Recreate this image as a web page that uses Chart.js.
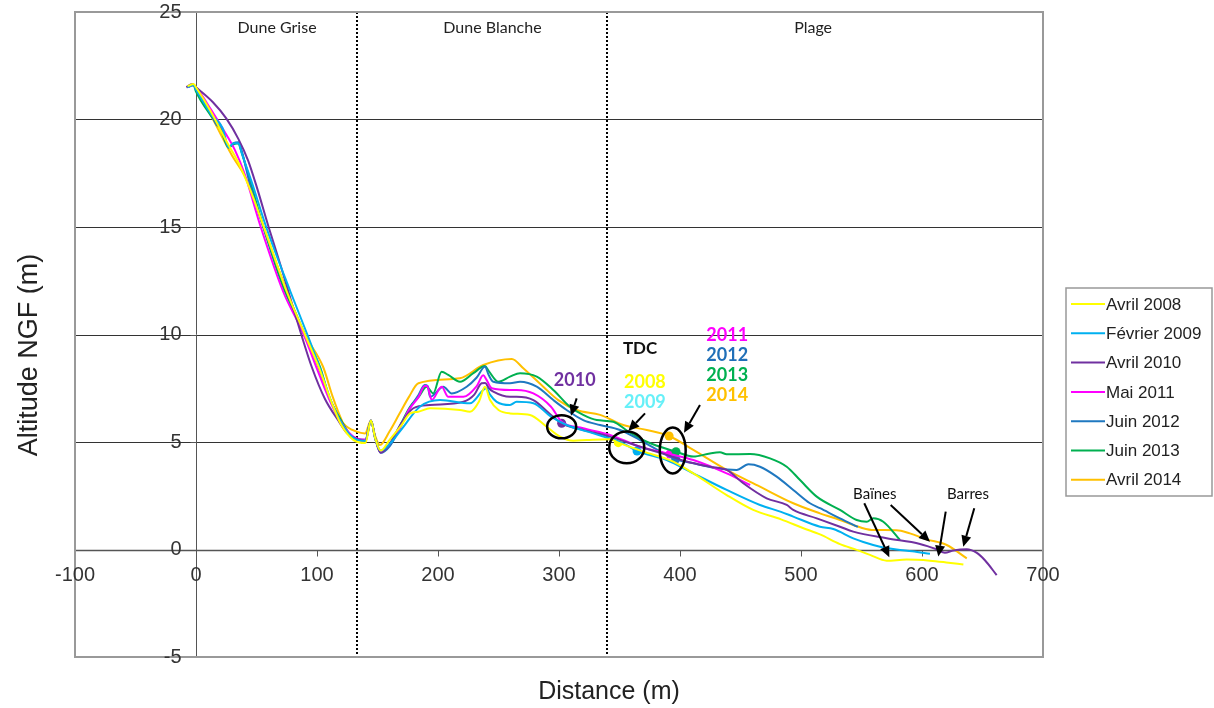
<!DOCTYPE html>
<html>
<head>
<meta charset="utf-8">
<script src="https://cdn.jsdelivr.net/npm/chart.js@4"></script>
<style>
  html,body{margin:0;padding:0;background:#fff;}
  #wrap{width:1214px;height:708px;}
</style>
</head>
<body>
<div id="wrap"><canvas id="profil" width="1214" height="708"></canvas></div>
<script>
// Series names + colours
const seriesNames = ['Avril 2008','Février 2009','Avril 2010','Mai 2011','Juin 2012','Juin 2013','Avril 2014'];
const seriesColors = ['#FFFF00','#00B0F0','#7030A0','#FF00FF','#1F78C0','#00B050','#FFC000'];

// Profiles (distance m / altitude m)
const x2008 = [-7,-2,0,12,25,35,45,56,75,90,102,111,120,130,140,144.6,148,152.6,160,170,176.9,183.7,193.4,218.2,226.4,234,238.8,243,250,259.5,276,289.8,300.8,311.8,322.8,342.1,349,370,394.5,411,438.6,460.5,483.5,502,515.7,532.2,546,557,570.8,587.3,606.6,620,634.2];
const y2008 = [21.55,21.65,21.5,20.4,19,18.0,16.7,15,12,10,8.4,7,5.8,5.1,4.95,6.0,5.2,4.6,5.1,5.8,6.33,6.41,6.57,6.49,6.41,6.9,7.57,6.95,6.49,6.33,6.26,5.71,5.25,5.06,5.09,5.13,4.97,4.55,4.09,3.54,2.53,1.84,1.4,0.99,0.7,0.25,-0.02,-0.25,-0.52,-0.47,-0.52,-0.6,-0.7];

const x2009 = [-7,-2,0,13,22,27,31,35,38,46,58,78,92,102,111,120,130,140,144.6,148,152.6,160,170,185,201.7,226.4,237.4,240,243,248.5,259.5,265,278.8,293.4,306.3,328.4,353.1,364.5,389,411,438.6,466.1,483.5,493.6,515.7,526.7,543.2,551.5,565.3,579,592,606.6];
const y2009 = [21.5,21.6,21.4,20.2,19.6,18.7,18.9,18.9,18.4,17.1,15,12,10,8.5,7,5.9,5.2,5.05,6.0,5.2,4.6,4.9,5.6,6.64,6.95,6.8,7.42,7.5,7.2,6.87,6.72,6.87,6.8,6.18,5.79,5.4,4.94,4.58,4.16,3.54,2.77,2.07,1.75,1.53,1.06,0.95,0.52,0.35,0.13,0.0,-0.08,-0.2];

const x2010 = [-8,-3,0,14,25,35,43,50,60,70,80,87,95.6,106.6,117.6,125,132,140,144.6,148,152.6,160,170,179.6,193.4,221,230,236,239,242,245.7,259.5,265,278.8,293.4,302.2,320,342,367,389,405.5,424.8,438.6,452.3,471.6,488.2,493.6,513,532.2,543.2,570.8,598.3,612.1,618.9,625.9,636.9,645,652,661.7];
const y2010 = [21.5,21.65,21.5,20.8,20.05,19.1,18.1,16.9,15,13.2,11.3,10,8.5,7.0,6.0,5.4,5.15,5.05,6.0,5.2,4.5,4.9,5.9,6.57,6.72,6.87,7.2,7.73,7.75,7.5,7.34,7.1,7.1,6.95,6.26,5.87,5.56,5.25,4.78,4.4,4.09,3.85,3.7,3.08,2.38,2.07,1.84,1.45,1.06,0.83,0.52,0.26,0.01,-0.15,-0.05,0.01,-0.15,-0.5,-1.19];

const x2011 = [-7,-2,0,12,25,32,40,53.5,72,89,100,110,120,130,140,144.6,148,152.6,160,168,176,184,189,191,194.8,203,208.5,221,232,237.4,240,244.4,259.5,265,278.8,293.4,302.2,320,342.1,367,391.7,411,438.6,458];
const y2011 = [21.5,21.6,21.5,20.5,19.3,18.6,17.5,15,12,10,8.4,7,5.9,5.25,5.1,6.0,5.2,4.55,4.9,5.6,6.5,7.1,7.6,7.6,6.95,7.57,7.1,7.1,7.6,8.1,7.9,7.5,7.42,7.42,7.26,6.64,5.94,5.64,5.33,4.78,4.44,4.16,3.54,3.0];

const x2012 = [-7,-2,0,13,17,21,27,31,35,37,45,55.6,75,90,101,110,119,130,140,144.6,148,152.6,160,168,176,184,189,191.5,193.4,204.4,211.3,223.7,232,238.8,242,245.7,259.5,267.8,281.6,295.3,306.3,320,333.9,350.4,367,396.4,411,430.3,446.8,456.5,466.1,479.9,493.6,507.4,515.7,532.2,547];
const y2012 = [21.5,21.6,21.4,20.2,19.75,19.6,18.7,18.9,18.94,18.7,16.9,15,12,10,8.5,7.1,6,5.2,5.05,6.0,5.2,4.5,4.8,5.6,6.5,7.2,7.65,7.6,7.1,7.57,7.26,7.57,8.0,8.5,8.1,7.8,7.73,7.8,7.57,6.95,6.49,6.02,5.79,5.56,5.09,4.21,4.01,3.78,3.7,3.96,3.85,3.39,2.77,2.15,1.92,1.45,1.05];

const x2013 = [-7,-2,0,12,20,27,31,35,37,46,55.6,72,75,90,102.5,110,120,130,140,144.6,148,152.6,160,168,176.9,184,190.7,196,203,208.5,218.2,229.2,238.8,242,249.9,259.5,267.8,281.6,295.3,309,320,331.2,344.9,357.3,372.5,396.7,411,424.8,433,438.6,457.9,474.4,488.2,499.2,513,532.2,546,554.3,559.8,568,581.8];
const y2013 = [21.5,21.6,21.3,20.2,19.6,18.7,18.85,18.9,18.6,16.9,15,12.2,11.8,9.9,8.5,7.1,6,5.2,5.1,6.0,5.2,4.55,4.9,5.7,6.64,7.1,7.57,7.26,8.27,8.12,7.8,8.2,8.53,8.3,7.8,8.04,8.2,8.04,7.42,6.64,6.26,6.02,5.94,5.48,5.01,4.55,4.32,4.47,4.52,4.43,4.44,4.24,3.85,3.23,2.46,1.84,1.37,1.29,1.45,1.29,0.44];

const x2014 = [-7,-2,0,15,30,40,47,56,75,90,105,113,120.4,121.8,132.8,139.7,144.6,148,152,160,168,176,183.8,218,237.4,261,270.5,287,299.4,314.6,333.9,353.1,372.5,391,411,438.6,466.1,493.6,515.7,532.2,543.2,558.4,579,590,604,620.4,637];
const y2014 = [21.5,21.6,21.5,19.9,18.3,17.4,16.5,15,12,10,8.5,7.1,6.02,5.87,5.48,5.4,6.0,5.3,4.86,5.5,6.3,7.1,7.73,7.96,8.58,8.86,8.43,7.57,6.95,6.49,6.26,5.79,5.56,5.28,4.63,3.7,2.92,2.15,1.68,1.37,1.14,0.91,0.9,0.75,0.47,0.21,-0.41];

const seriesX = [x2008,x2009,x2010,x2011,x2012,x2013,x2014];
const seriesY = [y2008,y2009,y2010,y2011,y2012,y2013,y2014];

// TDC (trait de côte) points, one per survey, same order as series
const tdcX = [349,364.5,302.2,391.7,396.4,396.7,391];
const tdcY = [4.97,4.58,5.87,4.44,4.21,4.55,5.28];

// Axes
const xTicks = [-100,0,100,200,300,400,500,600,700];
const yTicks = [-5,0,5,10,15,20,25];

// Zones
const zoneLimits = [133,340];
const zoneNames = ['Dune Grise','Dune Blanche','Plage'];
const zoneCenters = [67,245,510];

// Annotations (data coords)
const tdcLabels = ['2008','2009','2010','2011','2012','2013','2014'];
const tdcLabelX = [371,371,313,439,439,439,439];
const tdcLabelY = [7.8,6.86,7.88,9.98,9.05,8.12,7.19];
const ellipses = [[302.2,5.71,12,0.54],[356,4.75,14.5,0.74],[394,4.61,10.7,1.07]];
const arrows = [
  [314.6,7.03,309.9,6.22],[371.1,6.33,357.3,5.51],[416.5,6.72,403.3,5.43],
  [552.3,2.15,573,-0.36],[574.1,2.07,606.6,0.36],
  [619.6,1.76,613.5,-0.33],[643.2,1.92,634.1,0.13]
];
const noteTexts = ['Baïnes','Barres','TDC'];
const noteX = [561,638,367];
const noteY = [2.58,2.58,9.37];

const datasets = seriesNames.map((name,i)=>({
  label: name,
  data: seriesX[i].map((x,j)=>({x:x, y:seriesY[i][j]})),
  borderColor: seriesColors[i],
  backgroundColor: seriesColors[i],
  borderWidth: 2,
  pointRadius: 0,
  showLine: true,
  cubicInterpolationMode: 'monotone'
}));
datasets.push({
  label: 'TDC',
  data: tdcX.map((x,i)=>({x:x, y:tdcY[i]})),
  pointBackgroundColor: seriesColors,
  pointBorderWidth: 0,
  pointRadius: 4.5,
  showLine: false
});

const FONT = '"Liberation Sans", Arial, sans-serif';
const NOTE_FONT = 'Lato, "Open Sans", sans-serif';

// background frame, grid, axes
const framePlugin = {
  id: 'frame',
  beforeDatasetsDraw(chart){
    const ctx = chart.ctx, a = chart.chartArea;
    const xs = chart.scales.x, ys = chart.scales.y;
    ctx.save();
    // gridlines
    ctx.strokeStyle = '#333'; ctx.lineWidth = 1;
    yTicks.forEach(v=>{
      if(v===25 || v===-5 || v===0) return;
      const py = Math.round(ys.getPixelForValue(v))+0.5;
      ctx.beginPath(); ctx.moveTo(a.left,py); ctx.lineTo(a.right,py); ctx.stroke();
    });
    // zone separators
    ctx.strokeStyle = '#000'; ctx.lineWidth = 2; ctx.setLineDash([2,2]);
    zoneLimits.forEach(v=>{
      const px = Math.round(xs.getPixelForValue(v));
      ctx.beginPath(); ctx.moveTo(px,a.top); ctx.lineTo(px,a.bottom); ctx.stroke();
    });
    ctx.setLineDash([]);
    // axes through 0
    const x0 = Math.round(xs.getPixelForValue(0))+0.5;
    const y0 = Math.round(ys.getPixelForValue(0))+0.5;
    ctx.strokeStyle = '#555'; ctx.lineWidth = 1.5;
    ctx.beginPath(); ctx.moveTo(a.left,y0); ctx.lineTo(a.right,y0); ctx.stroke();
    ctx.lineWidth = 1;
    ctx.beginPath(); ctx.moveTo(x0,a.top); ctx.lineTo(x0,a.bottom); ctx.stroke();
    // tick marks
    yTicks.forEach(v=>{
      const py = Math.round(ys.getPixelForValue(v))+0.5;
      ctx.beginPath(); ctx.moveTo(x0-6,py); ctx.lineTo(x0,py); ctx.stroke();
    });
    xTicks.forEach(v=>{
      const px = Math.round(xs.getPixelForValue(v))+0.5;
      ctx.beginPath(); ctx.moveTo(px,y0); ctx.lineTo(px,y0+6); ctx.stroke();
    });
    // border
    ctx.strokeStyle = '#999'; ctx.lineWidth = 2;
    ctx.strokeRect(a.left,a.top,a.right-a.left,a.bottom-a.top);
    // tick labels
    ctx.fillStyle = '#333'; ctx.font = '20px '+FONT;
    ctx.textAlign = 'right'; ctx.textBaseline = 'middle';
    yTicks.forEach(v=>{ ctx.fillText(String(v), x0-15, ys.getPixelForValue(v)); });
    ctx.textAlign = 'center'; ctx.textBaseline = 'top';
    xTicks.forEach(v=>{ ctx.fillText(String(v), xs.getPixelForValue(v), y0+15); });
    // axis titles
    ctx.fillStyle = '#222'; ctx.textBaseline = 'middle';
    ctx.font = '25px '+FONT;
    ctx.fillText('Distance (m)', 609, 692);
    ctx.font = '27px '+FONT;
    ctx.translate(30,355); ctx.rotate(-Math.PI/2);
    ctx.fillText('Altitude NGF (m)', 0, 0);
    ctx.restore();
  }
};

function drawArrow(ctx,x1,y1,x2,y2){
  const ang = Math.atan2(y2-y1,x2-x1), len = 11, w = 5;
  const bx = x2-len*Math.cos(ang), by = y2-len*Math.sin(ang);
  ctx.beginPath(); ctx.moveTo(x1,y1); ctx.lineTo(bx,by); ctx.stroke();
  ctx.beginPath();
  ctx.moveTo(x2,y2);
  ctx.lineTo(bx+w*Math.sin(ang), by-w*Math.cos(ang));
  ctx.lineTo(bx-w*Math.sin(ang), by+w*Math.cos(ang));
  ctx.closePath(); ctx.fill();
}

// notes, circles, arrows, legend
const notesPlugin = {
  id: 'notes',
  afterDatasetsDraw(chart){
    const ctx = chart.ctx, xs = chart.scales.x, ys = chart.scales.y;
    const px = v=>xs.getPixelForValue(v), py = v=>ys.getPixelForValue(v);
    ctx.save();
    ctx.textAlign = 'center'; ctx.textBaseline = 'middle';
    ctx.fillStyle = '#222'; ctx.font = '16px '+NOTE_FONT;
    zoneNames.forEach((n,i)=>ctx.fillText(n, px(zoneCenters[i]), 28));

    ctx.strokeStyle = '#000'; ctx.lineWidth = 2.5;
    ellipses.forEach(e=>{
      const rx = px(e[0]+e[2])-px(e[0]), ry = py(e[1])-py(e[1]+e[3]);
      ctx.beginPath(); ctx.ellipse(px(e[0]),py(e[1]),rx,ry,0,0,Math.PI*2); ctx.stroke();
    });
    ctx.lineWidth = 2; ctx.fillStyle = '#000';
    arrows.forEach(r=>drawArrow(ctx,px(r[0]),py(r[1]),px(r[2]),py(r[3])));

    ctx.font = 'bold 18px '+NOTE_FONT;
    tdcLabels.forEach((t,i)=>{
      ctx.fillStyle = i===1 ? '#66F0F8' : seriesColors[i];
      if(i===4) ctx.fillStyle = '#1F6FB8';
      ctx.fillText(t, px(tdcLabelX[i]), py(tdcLabelY[i]));
    });
    noteTexts.forEach((t,i)=>{
      ctx.fillStyle = '#111';
      ctx.font = (t==='TDC' ? 'bold 17px ' : '15px ')+NOTE_FONT;
      ctx.fillText(t, px(noteX[i]), py(noteY[i]));
    });

    // legend box
    const lx = 1066, ly = 288, lw = 146, lh = 208;
    ctx.fillStyle = '#fff'; ctx.fillRect(lx,ly,lw,lh);
    ctx.strokeStyle = '#999'; ctx.lineWidth = 1.5; ctx.strokeRect(lx,ly,lw,lh);
    ctx.textAlign = 'left'; ctx.font = '17px '+FONT;
    seriesNames.forEach((n,i)=>{
      const yy = 304 + i*29.3;
      ctx.strokeStyle = seriesColors[i]; ctx.lineWidth = 2;
      ctx.beginPath(); ctx.moveTo(1071,yy); ctx.lineTo(1105,yy); ctx.stroke();
      ctx.fillStyle = '#222'; ctx.fillText(n, 1106, yy+1);
    });
    ctx.restore();
  }
};

new Chart(document.getElementById('profil').getContext('2d'), {
  type: 'scatter',
  data: { datasets: datasets },
  options: {
    responsive: false,
    animation: false,
    layout: { padding: { left: 75, top: 12, right: 171, bottom: 51 } },
    plugins: { legend: { display: false }, tooltip: { enabled: false } },
    scales: {
      x: { type: 'linear', min: -100, max: 700, display: false },
      y: { type: 'linear', min: -5, max: 25, display: false }
    }
  },
  plugins: [framePlugin, notesPlugin]
});
</script>
</body>
</html>
